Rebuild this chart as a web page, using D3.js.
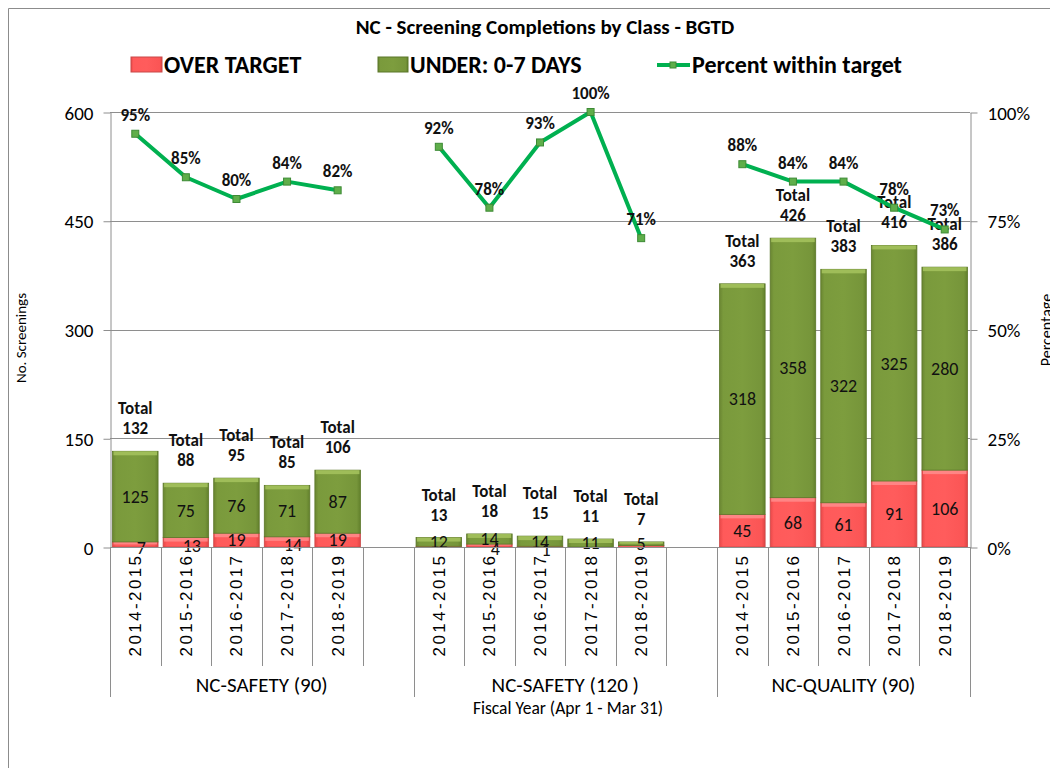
<!doctype html>
<html>
  <head>
    <meta charset="utf-8" />
    <title>NC - Screening Completions by Class - BGTD</title>
    <script src="https://cdn.jsdelivr.net/npm/d3@7"></script>
    <style>
      body{margin:0;padding:0;background:#fff;}
      text{font-family:Carlito, Lato, sans-serif;}
    </style>
  </head>
  <body>
<script>

  // data
  var groups = ["NC-SAFETY (90)", "NC-SAFETY (120 )", "NC-QUALITY (90)"];
  var years  = ["2014-2015", "2015-2016", "2016-2017", "2017-2018", "2018-2019"];
  var overTarget  = [[7, 13, 19, 14, 19], [1, 4, 1, 0, 2], [45, 68, 61, 91, 106]];
  var underTarget = [[125, 75, 76, 71, 87], [12, 14, 14, 11, 5], [318, 358, 322, 325, 280]];
  var percentWithin = [[95, 85, 80, 84, 82], [92, 78, 93, 100, 71], [88, 84, 84, 78, 73]];
  var countTicks   = [0, 150, 300, 450, 600];
  var percentTicks = [0, 25, 50, 75, 100];
  // over-target labels that the original chart does not show
  var hiddenOverLabels = ["1-0", "1-3", "1-4"];

  var width = 1050, height = 768;
  var plot = {left: 110, right: 970, top: 112, bottom: 547};

  var svg = d3.select("body").append("svg")
      .attr("width", width).attr("height", height);

  // gradients for the bevelled bars
  var defs = svg.append("defs");
  function vGrad(id, stops){
    var g = defs.append("linearGradient").attr("id", id).attr("x1", 0).attr("y1", 0).attr("x2", 1).attr("y2", 0);
    stops.forEach(function(s){ g.append("stop").attr("offset", s[0]).attr("stop-color", s[1]); });
  }
  vGrad("gGreen", [[0, "#6a8632"], [0.08, "#7a9a3c"], [0.5, "#7d9d3e"], [0.92, "#76953a"], [1, "#62802c"]]);
  vGrad("gRed", [[0, "#e84848"], [0.08, "#ff5a5a"], [0.5, "#ff5c5c"], [0.92, "#fb5555"], [1, "#e04444"]]);

  // outer frame
  svg.append("path").attr("d", "M8.5," + height + "V8.5H" + width)
     .attr("fill", "none").attr("stroke", "#8c8c8c").attr("stroke-width", 1);

  // slots: 5 years per group, one empty slot between groups
  var slots = [];
  groups.forEach(function(g, gi){
    years.forEach(function(y, yi){ slots.push({key: gi + "-" + yi, g: gi, y: yi}); });
    if(gi < groups.length - 1) slots.push({key: "gap" + gi, g: gi, y: -1});
  });

  var x = d3.scaleBand().domain(slots.map(function(s){ return s.key; }))
      .range([plot.left, plot.right]).paddingInner(0.1).paddingOuter(0.05);
  var step = x.step();
  var y = d3.scaleLinear().domain([0, 600]).range([plot.bottom, plot.top]);
  var yP = d3.scaleLinear().domain([0, 100]).range([plot.bottom, plot.top]);

  // gridlines
  svg.append("g").selectAll("line").data(countTicks.slice(1)).enter().append("line")
     .attr("x1", plot.left).attr("x2", plot.right)
     .attr("y1", function(d){ return Math.round(y(d)) + 0.5; })
     .attr("y2", function(d){ return Math.round(y(d)) + 0.5; })
     .attr("stroke", "#8e8e8e").attr("stroke-width", 1);

  // left axis
  var leftAxis = svg.append("g").attr("transform", "translate(" + (plot.left + 0.5) + ",0.5)")
      .call(d3.axisLeft(y).tickValues(countTicks).tickSize(7).tickSizeOuter(0));
  leftAxis.select(".domain").attr("stroke", "#8e8e8e");
  leftAxis.selectAll(".tick line").attr("stroke", "#8e8e8e");
  leftAxis.selectAll(".tick text").attr("font-size", 19).attr("fill", "#000").attr("x", -17).attr("dy", "0.35em");

  // right axis
  var rightAxis = svg.append("g").attr("transform", "translate(" + (plot.right + 0.5) + ",0.5)")
      .call(d3.axisRight(yP).tickValues(percentTicks).tickSize(7).tickSizeOuter(0)
      .tickFormat(function(d){ return d + "%"; }));
  rightAxis.select(".domain").attr("stroke", "#8e8e8e");
  rightAxis.selectAll(".tick line").attr("stroke", "#8e8e8e");
  rightAxis.selectAll(".tick text").attr("font-size", 19).attr("fill", "#000").attr("x", 17).attr("dy", "0.35em");

  // axis titles
  svg.append("text").attr("transform", "translate(26,338) rotate(-90)")
     .attr("text-anchor", "middle").attr("font-size", 15).text("No. Screenings");
  svg.append("text").attr("transform", "translate(1052,330) rotate(-90)")
     .attr("text-anchor", "middle").attr("font-size", 16).text("Percentage");

  // bars
  var bars = svg.append("g");
  slots.filter(function(s){ return s.y >= 0; }).forEach(function(s){
    var ov = overTarget[s.g][s.y], un = underTarget[s.g][s.y];
    var bx = x(s.key), bw = x.bandwidth();
    var segs = [
      {v0: 0, v1: ov, fill: "url(#gRed)", top: "#ff8a8a", edge: "#c94848", label: ov, isOver: true},
      {v0: ov, v1: ov + un, fill: "url(#gGreen)", top: "#a3c15c", edge: "#5b7629", label: un, isOver: false}
    ];
    segs.forEach(function(sg){
      if(sg.v1 - sg.v0 <= 0) return;
      var yt = y(sg.v1), yb = y(sg.v0);
      bars.append("rect").attr("x", bx).attr("y", yt).attr("width", bw).attr("height", yb - yt)
          .attr("fill", sg.fill).attr("stroke", sg.edge).attr("stroke-width", 0.8);
      // bevel strip on top
      var bev = Math.min(4, (yb - yt) / 2);
      bars.append("rect").attr("x", bx + 1).attr("y", yt).attr("width", bw - 2).attr("height", bev)
          .attr("fill", sg.top).attr("opacity", 0.9);
    });
    // segment labels
    segs.forEach(function(sg){
      if(sg.label <= 0) return;
      if(sg.isOver && hiddenOverLabels.indexOf(s.key) >= 0) return;
      var cy = (y(sg.v0) + y(sg.v1)) / 2;
      var tiny = (y(sg.v0) - y(sg.v1)) < 12;
      bars.append("text").attr("x", bx + bw / 2 + (sg.isOver && tiny ? 6 : 0))
          .attr("y", cy + (sg.isOver && tiny ? 3 : 0))
          .attr("dy", "0.35em").attr("text-anchor", "middle").attr("font-size", 18)
          .attr("fill", "#111").text(sg.label);
    });
    // total label
    var tot = ov + un;
    var t = bars.append("text").attr("text-anchor", "middle").attr("font-size", 17)
        .attr("font-weight", "bold").attr("fill", "#111");
    t.append("tspan").attr("x", bx + bw / 2).attr("y", y(tot) - 37).text("Total");
    t.append("tspan").attr("x", bx + bw / 2).attr("y", y(tot) - 17).text(tot);
  });

  // percent lines, one per group
  var line = d3.line().x(function(d){ return x(d.key) + x.bandwidth() / 2; })
      .y(function(d){ return yP(d.p); });
  groups.forEach(function(g, gi){
    var pts = years.map(function(yr, yi){ return {key: gi + "-" + yi, p: percentWithin[gi][yi]}; });
    svg.append("path").datum(pts).attr("d", line).attr("fill", "none")
       .attr("stroke", "#00b050").attr("stroke-width", 4).attr("stroke-linejoin", "round");
    svg.append("g").selectAll("rect").data(pts).enter().append("rect")
       .attr("x", function(d){ return x(d.key) + x.bandwidth() / 2 - 3.5; })
       .attr("y", function(d){ return yP(d.p) - 3.5; })
       .attr("width", 7).attr("height", 7)
       .attr("fill", "#5fae4a").attr("stroke", "#3d8a35").attr("stroke-width", 1);
    svg.append("g").selectAll("text").data(pts).enter().append("text")
       .attr("x", function(d){ return x(d.key) + x.bandwidth() / 2; })
       .attr("y", function(d){ return yP(d.p) - 13; })
       .attr("text-anchor", "middle").attr("font-size", 17).attr("font-weight", "bold")
       .attr("fill", "#111").text(function(d){ return d.p + "%"; });
  });

  // category axis: year tick separators, year labels, group labels
  var catAxis = svg.append("g");
  catAxis.append("line").attr("x1", plot.left).attr("x2", plot.right)
     .attr("y1", plot.bottom + 0.5).attr("y2", plot.bottom + 0.5).attr("stroke", "#8e8e8e");
  slots.forEach(function(s, i){
    var bx = Math.round(x(s.key) - step * 0.05) + 0.5;
    var groupStart = (i === 0) || (s.y === 0 && i > 0);
    catAxis.append("line").attr("x1", bx).attr("x2", bx)
       .attr("y1", plot.bottom).attr("y2", groupStart ? 697 : 666).attr("stroke", "#8e8e8e");
    if(s.y >= 0){
      catAxis.append("text")
         .attr("transform", "translate(" + (x(s.key) + x.bandwidth() / 2 + 6) + ",605) rotate(-90)")
         .attr("text-anchor", "middle").attr("font-size", 17).attr("letter-spacing", 2.4)
         .style("font-family", "'Liberation Sans', Arial, sans-serif")
         .text(years[s.y]);
    }
  });
  catAxis.append("line").attr("x1", plot.right + 0.5).attr("x2", plot.right + 0.5)
     .attr("y1", plot.bottom).attr("y2", 697).attr("stroke", "#8e8e8e");
  groups.forEach(function(g, gi){
    var first = x(gi + "-0") - step * 0.05;
    var last = gi < groups.length - 1 ? x("gap" + gi) + step * 0.95 : plot.right;
    catAxis.append("text").attr("x", (first + last) / 2).attr("y", 692)
       .attr("text-anchor", "middle").attr("font-size", 21).text(g);
  });
  svg.append("text").attr("x", 568).attr("y", 714).attr("text-anchor", "middle")
     .attr("font-size", 17.5).text("Fiscal Year (Apr 1 - Mar 31)");

  // title
  svg.append("text").attr("x", 545).attr("y", 34).attr("text-anchor", "middle")
     .attr("font-size", 21).attr("font-weight", "bold").text("NC - Screening Completions by Class - BGTD");

  // legend
  var legend = svg.append("g").attr("font-size", 24).attr("font-weight", "bold");
  legend.append("rect").attr("x", 131).attr("y", 57).attr("width", 31).attr("height", 15)
     .attr("fill", "url(#gRed)").attr("stroke", "#c94848");
  legend.append("text").attr("x", 164).attr("y", 73).text("OVER TARGET");
  legend.append("rect").attr("x", 378).attr("y", 57).attr("width", 30).attr("height", 15)
     .attr("fill", "url(#gGreen)").attr("stroke", "#5b7629");
  legend.append("text").attr("x", 410).attr("y", 73).text("UNDER: 0-7 DAYS");
  legend.append("line").attr("x1", 657).attr("x2", 690).attr("y1", 65).attr("y2", 65)
     .attr("stroke", "#00b050").attr("stroke-width", 4);
  legend.append("rect").attr("x", 670).attr("y", 62).attr("width", 6).attr("height", 6)
     .attr("fill", "#5fae4a").attr("stroke", "#3d8a35");
  legend.append("text").attr("x", 692).attr("y", 73).text("Percent within target");

</script>
  </body>
</html>
